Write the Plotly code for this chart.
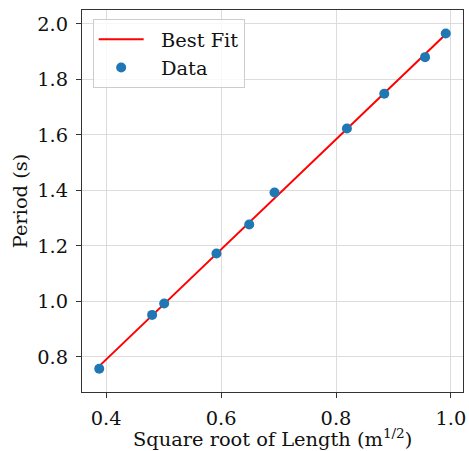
import numpy as np
import plotly.graph_objects as go

# Data
sqrt_length = [0.388, 0.480, 0.501, 0.592, 0.649, 0.693, 0.819, 0.884, 0.955, 0.991]
period = [0.757, 0.951, 0.992, 1.172, 1.277, 1.392, 1.623, 1.748, 1.880, 1.965]
period_err = [0.01] * len(period)

x_ticks = [0.4, 0.6, 0.8, 1.0]
y_ticks = [0.8, 1.0, 1.2, 1.4, 1.6, 1.8, 2.0]

slope, intercept = np.polyfit(sqrt_length, period, 1)
fit_x = [min(sqrt_length), max(sqrt_length)]
fit_y = [slope * v + intercept for v in fit_x]

FONT = "DejaVu Serif"
FS = 19.4
PAD = "\u00a0\u00a0"

fig = go.Figure()
fig.add_trace(go.Scatter(
    x=fit_x, y=fit_y, mode="lines", name=PAD + "Best Fit", legendgroup="fit",
    line=dict(color="red", width=2),
))
fig.add_trace(go.Scatter(
    x=sqrt_length, y=period, mode="markers", name=PAD + "Data", legendgroup="data",
    marker=dict(color="#1f77b4", size=10),
    error_y=dict(type="data", array=period_err, color="#1f77b4", thickness=1.5, width=0),
))

axis_common = dict(
    showline=True, linecolor="#333333", linewidth=1, mirror=True,
    ticks="outside", ticklen=5, tickcolor="#333333", tickwidth=1,
    showgrid=True, gridcolor="#dcdcdc", gridwidth=1, zeroline=False,
    tickfont=dict(family=FONT, size=FS, color="#111111"),
    automargin=False, ticklabelstandoff=4,
)

fig.update_layout(
    width=469, height=451, autosize=False,
    margin=dict(l=82, r=6, t=10, b=59),
    paper_bgcolor="white", plot_bgcolor="white",
    font=dict(family=FONT, size=FS, color="#111111"),
    xaxis=dict(
        range=[0.358, 1.021], tickvals=x_ticks, ticktext=[f"{v:.1f}" for v in x_ticks],
        **axis_common,
    ),
    yaxis=dict(
        range=[0.673, 2.05], tickvals=y_ticks, ticktext=[f"{v:.1f}" for v in y_ticks],
        title=dict(text="Period (s)", font=dict(family=FONT, size=FS), standoff=4),
        **axis_common,
    ),
    legend=dict(
        x=0.028, y=0.976, xanchor="left", yanchor="top",
        bgcolor="rgba(255,255,255,0.8)", bordercolor="#cccccc", borderwidth=1,
        font=dict(family=FONT, size=FS), itemwidth=45, tracegroupgap=9,
        traceorder="normal",
    ),
    annotations=[dict(
        text="Square root of Length (m<sup>1/2</sup>)",
        xref="paper", yref="paper", x=0.5, y=-0.12,
        xanchor="center", yanchor="middle", showarrow=False,
        font=dict(family=FONT, size=FS, color="#111111"),
    )],
    showlegend=True,
)

fig.write_html(
    "out.html",
    config={"displayModeBar": False},
    post_script="document.body.style.margin='0';document.body.style.overflow='hidden';",
)
